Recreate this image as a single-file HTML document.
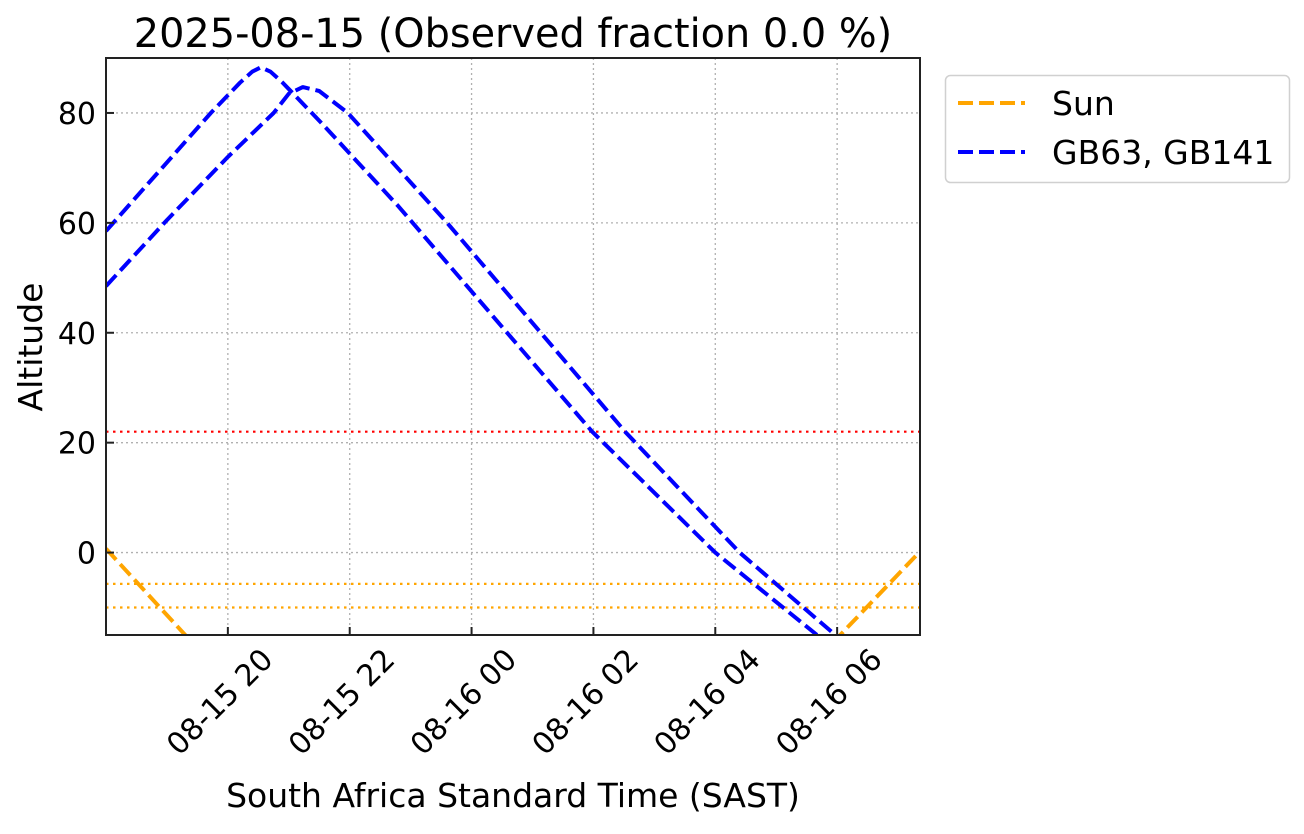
<!DOCTYPE html>
<html><head><meta charset="utf-8"><style>
body{margin:0;background:#fff;}
svg text{font-family:"DejaVu Sans","Liberation Sans",sans-serif;fill:#000;}
</style></head><body>
<svg id="chart" width="1304" height="829" xmlns="http://www.w3.org/2000/svg">
<defs><clipPath id="clip"><rect x="106" y="58" width="814" height="577"/></clipPath></defs>
<g id="grid"></g>
<g id="refs" clip-path="url(#clip)"></g>
<g id="series" clip-path="url(#clip)"></g>
<rect x="106" y="58" width="814" height="577" fill="none" stroke="#222" stroke-width="2"/>
<g id="ticks"></g>
<text x="513" y="47" font-size="39.8" text-anchor="middle">2025-08-15 (Observed fraction 0.0 %)</text>
<text x="513" y="807" font-size="33" text-anchor="middle">South Africa Standard Time (SAST)</text>
<text transform="translate(42,347) rotate(-90)" font-size="33" text-anchor="middle">Altitude</text>
<g>
<rect x="945.5" y="75.5" width="344" height="107" rx="5" fill="#fff" stroke="#d0d0d0" stroke-width="1.5"/>
<line x1="958" y1="103" x2="1025" y2="103" stroke="orange" stroke-width="4" stroke-dasharray="15,6"/>
<text x="1052" y="115" font-size="33">Sun</text>
<line x1="958" y1="152" x2="1025" y2="152" stroke="blue" stroke-width="4" stroke-dasharray="15,6"/>
<text x="1052" y="164" font-size="33">GB63, GB141</text>
</g>
</svg>
<script>
const yTicks=[0,20,40,60,80];
const xTickHours=[2,4,6,8,10,12];
const xTickLabels=["08-15 20","08-15 22","08-16 00","08-16 02","08-16 04","08-16 06"];
const gb63Hours=[0,1.72,2.2,2.4,2.54,2.7,2.9,3.55,4.8,7.98,10.0,11.67,12];
const gb63Alt=[58.5,80,85.5,87.5,88.3,87.5,85.5,78,63,22,0,-15,-18];
const gb141Hours=[0,1,2,2.75,3.0,3.23,3.5,3.97,5.6,8.52,10.4,11.97,12.3];
const gb141Alt=[48.5,60.5,72,80,83.5,84.7,84,80,60,22,0,-15,-18];
const sunHours=[0,1.3,1.5,11.8,12.05,13.36];
const sunAlt=[0.7,-15,-18,-18,-15,0.2];
const refAlts=[22,-5.7,-10];
const refColors=["red","orange","orange"];
const X0=106,X1=920,Y0=635,Y1=58,HMAX=13.36,AMIN=-15,AMAX=90;
const xs=h=>X0+(h/HMAX)*(X1-X0);
const ys=a=>Y0-(a-AMIN)/(AMAX-AMIN)*(Y0-Y1);
const NS="http://www.w3.org/2000/svg";
function mk(t,attrs,parent){const e=document.createElementNS(NS,t);for(const k in attrs)e.setAttribute(k,attrs[k]);document.getElementById(parent).appendChild(e);return e;}
yTicks.forEach(v=>{
 const g=mk('line',{x1:X0,x2:X1,y1:ys(v),y2:ys(v),stroke:'#b0b0b0','stroke-width':1.3,'stroke-dasharray':'2,3'},'grid');
 
 
 const t=mk('line',{x1:X0,x2:X0+8,y1:ys(v),y2:ys(v),stroke:'#222','stroke-width':2},'ticks');
 
 
 const l=mk('text',{x:X0-10,y:ys(v)+11,'font-size':30,'text-anchor':'end'},'ticks');
 l.textContent=v;
 
 
});
xTickHours.forEach((h,i)=>{
 const x=xs(h);
 const g=mk('line',{x1:x,x2:x,y1:Y1,y2:Y0,stroke:'#b0b0b0','stroke-width':1.3,'stroke-dasharray':'2,3'},'grid');
 
 
 const t=mk('line',{x1:x,x2:x,y1:Y0,y2:Y0-8,stroke:'#222','stroke-width':2},'ticks');
 
 
 const l=mk('text',{transform:`translate(${x-8},${Y0+67}) rotate(-45)`,'font-size':30,'text-anchor':'middle',dy:'10'},'ticks');
 l.textContent=xTickLabels[i];
 
 
});
refAlts.forEach((a,i)=>{
 const r=mk('line',{x1:X0,x2:X1,y1:ys(a),y2:ys(a),stroke:refColors[i],'stroke-width':2.2,'stroke-dasharray':'2.5,4.5'},'refs');
 
 
});
function line(hs,as,color,name){
 const p=hs.map((h,i)=>xs(h).toFixed(1)+','+ys(as[i]).toFixed(1)).join(' ');
 const e=mk('polyline',{points:p,fill:'none',stroke:color,'stroke-width':4,'stroke-dasharray':'15,6','stroke-linejoin':'round'},'series');
 
 
}
line(sunHours,sunAlt,'orange','sun-line');
line(gb63Hours,gb63Alt,'blue','gb63-line');
line(gb141Hours,gb141Alt,'blue','gb141-line');
</script>
</body></html>
